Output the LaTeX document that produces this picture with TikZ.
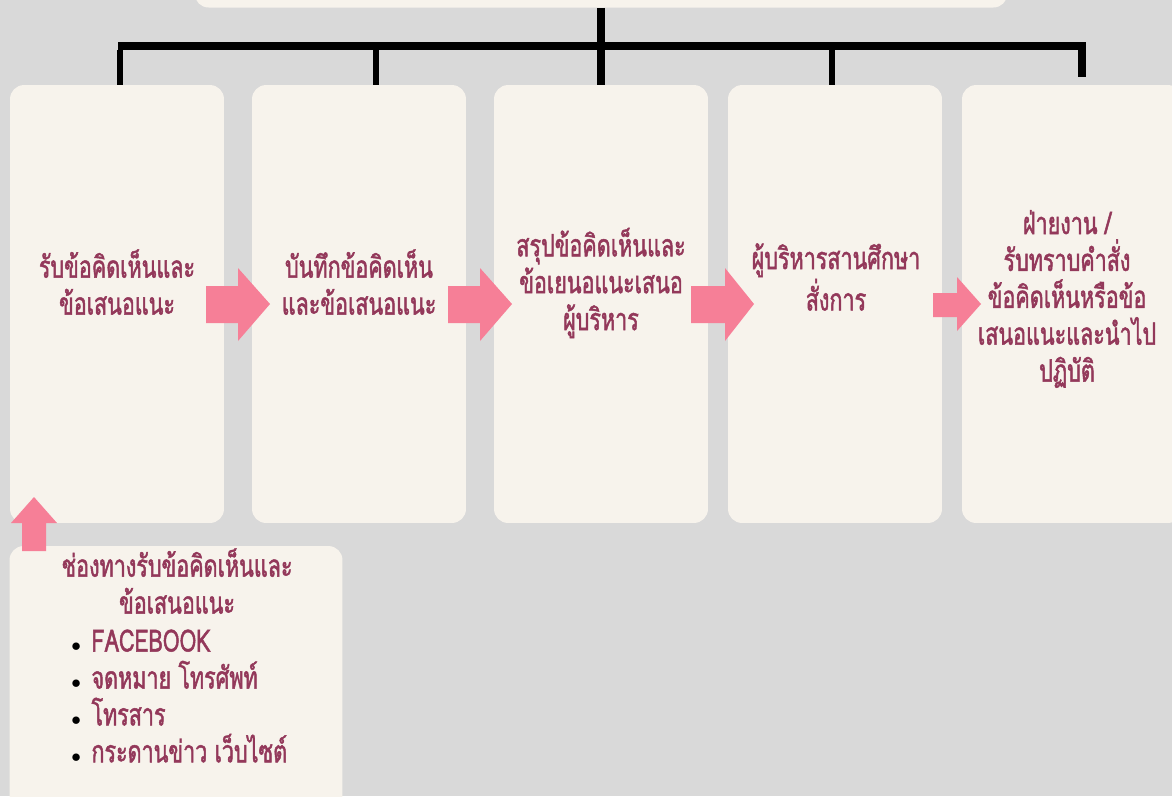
\documentclass[tikz,border=0pt]{standalone}
\usepackage{fontspec}
\newfontfamily\thaifont[Script=Thai,FakeStretch=0.7,FakeBold=1.5]{Loma}
\definecolor{bggray}{HTML}{D9D9D9}
\definecolor{cream}{HTML}{F7F3EC}
\definecolor{arrowpink}{HTML}{F67F97}
\definecolor{inkpink}{HTML}{93385A}
% dark stroke for the letter outlines
\newcommand{\inkon}{\special{pdf:literal direct 0.17 0.11 0.12 RG}}
\tikzset{
  stepbox/.style={fill=cream,rounded corners=8pt,inner sep=0pt,
    minimum width=4.28cm,minimum height=8.76cm},
  steptext/.style={font=\thaifont\fontsize{17.5}{21}\selectfont,text=inkpink,
    align=center,inner sep=0pt,execute at begin node=\inkon},
  treeline/.style={line width=4.5pt,black},
  tickline/.style={line width=3.4pt,black},
  flowarrow/.style={fill=arrowpink}
}
\newcommand{\dotitem}{{\color{black}\fontsize{11}{11}\selectfont$\bullet$}\hspace{6pt}}
\begin{document}
\begin{tikzpicture}[x=0.02cm,y=-0.02cm]
\useasboundingbox (0,0) rectangle (1172,796);
\fill[bggray] (0,0) rectangle (1172,796);
\clip (0,0) rectangle (1172,796);

% boxes
\node[stepbox,minimum width=16.26cm,minimum height=1.34cm] (top) at (601,-26) {};
\node[stepbox] (rb) at (117,304) {};
\node[stepbox] (bt) at (359,304) {};
\node[stepbox] (sr) at (601,304) {};
\node[stepbox] (pb) at (835,304) {};
\node[stepbox,minimum width=4.4cm] (fn) at (1072,304) {};
\node[stepbox,minimum width=6.66cm,minimum height=5.28cm] (ch) at (176,678) {};

% tree
\coordinate (j0) at (118,46);
\coordinate (j1) at (120,46);
\coordinate (j2) at (376,46);
\coordinate (j4) at (832,46);
\coordinate (j5) at (1082,46);
\coordinate (j5end) at (1082,77);
\draw[treeline] (top.south) -- (sr.north);
\draw[treeline,miter limit=4] (j0) -- (j5) -- (j5end);
\draw[tickline] (j1) ++(0,4) -- (j1 |- rb.north);
\draw[tickline] (j2) ++(0,4) -- (j2 |- bt.north);
\draw[tickline] (j4) ++(0,4) -- (j4 |- pb.north);

% arrows
\fill[flowarrow] (206,286) -- (238,286) -- (238,268) -- (270,304) -- (238,341) -- (238,323) -- (206,323) -- cycle;
\fill[flowarrow] (448,286) -- (480,286) -- (480,268) -- (512,304) -- (480,341) -- (480,323) -- (448,323) -- cycle;
\fill[flowarrow] (691,286) -- (725,286) -- (725,268) -- (754,304) -- (725,341) -- (725,323) -- (691,323) -- cycle;
\fill[flowarrow] (933,293) -- (957,293) -- (957,277) -- (981,304) -- (957,331) -- (957,317) -- (933,317) -- cycle;
\fill[flowarrow] (22,551) -- (22,523) -- (11,523) -- (34,497) -- (57,523) -- (46,523) -- (46,551) -- cycle;

% texts
\node[steptext] (rbt) at (117,282) {รับข้อคิดเห็นและ\\ข้อเสนอแนะ};
\node[steptext] (btt) at (359,282) {บันทึกข้อคิดเห็น\\และข้อเสนอแนะ};
\node[steptext] (srt) at (601,283) {สรุปข้อคิดเห็นและ\\ข้อเยนอแนะเสนอ\\ผู้บริหาร};
\node[steptext] (pbt) at (836,277) {ผู้บริหารสานศึกษา\\สั่งการ};
\node[steptext] (fnt) at (1067,299) {ฝ่ายงาน /\\รับทราบคำสั่ง\\ข้อคิดเห็นหรือข้อ\\เสนอแนะและนำไป\\ปฏิบัติ};
\node[steptext] (cht) at (177,581) {ช่องทางรับข้อคิดเห็นและ\\ข้อเสนอแนะ};
\node[steptext,align=left,anchor=west] (chl) at (71,696) {%
  \dotitem FACEBOOK\\
  \dotitem จดหมาย โทรศัพท์\\
  \dotitem โทรสาร\\
  \dotitem กระดานข่าว เว็บไซต์};
\end{tikzpicture}
\end{document}
